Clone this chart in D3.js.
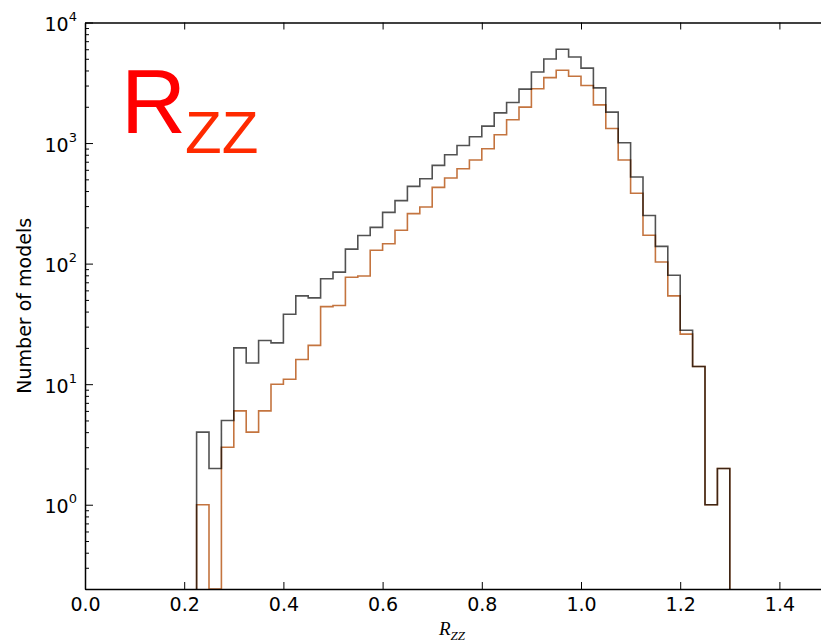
<!DOCTYPE html>
<html>
<head>
<meta charset="utf-8">
<script src="https://cdn.jsdelivr.net/npm/d3@7"></script>
<style>
  html, body { margin: 0; padding: 0; background: #fff; }
  svg { display: block; }
</style>
</head>
<body>
<svg id="chart" width="821" height="644"></svg>
<script>
// ---- data ----
const binEdges = [0.225, 0.25, 0.275, 0.3, 0.325, 0.35, 0.375, 0.4, 0.425, 0.45,
  0.475, 0.5, 0.525, 0.55, 0.575, 0.6, 0.625, 0.65, 0.675, 0.7,
  0.725, 0.75, 0.775, 0.8, 0.825, 0.85, 0.875, 0.9, 0.925, 0.95,
  0.975, 1.0, 1.025, 1.05, 1.075, 1.1, 1.125, 1.15, 1.175, 1.2,
  1.225, 1.25, 1.275, 1.3];
const allModels = [4, 2, 5, 20, 15, 23, 22, 38, 54, 52,
  75, 85, 132, 171, 200, 266, 333, 437, 506, 653,
  800, 955, 1128, 1381, 1781, 2170, 2800, 3890, 4985, 6000,
  5180, 4180, 2870, 1806, 1005, 523, 251, 139, 80, 28,
  14, 1, 2];
const selectedModels = [1, 0, 3, 6, 4, 6, 10, 11, 16, 21,
  44, 45, 77, 79, 129, 146, 189, 260, 295, 429,
  513, 612, 723, 897, 1172, 1560, 1986, 2818, 3490, 4018,
  3586, 3000, 2075, 1321, 723, 383, 172, 103, 54, 26,
  14, 1, 2];
const xTicks = [0.0, 0.2, 0.4, 0.6, 0.8, 1.0, 1.2, 1.4];
const yTicks = [1, 10, 100, 1000, 10000];
const yTickExp = ["0", "1", "2", "3", "4"];
const xDomain = [0, 1.5];
const yDomain = [0.2, 10000];

(function () {
// ---- layout ----
const svg = d3.select("#chart");
const pLeft = 85, pTop = 22.5, pBottom = 589;
const xScale = d3.scaleLinear().domain(xDomain).range([pLeft, pLeft + 1.5 * 496]);
const yScale = d3.scaleLog().domain(yDomain).range([pBottom, pTop]);
const pRight = xScale(xDomain[1]);

svg.append("defs").append("clipPath").attr("id", "plotclip")
  .append("rect").attr("x", pLeft).attr("y", pTop).attr("width", pRight - pLeft).attr("height", pBottom - pTop);

function stepPath(edges, vals) {
  const yOf = v => v > 0 ? yScale(v) : pBottom;
  const pts = [[xScale(edges[0]), pBottom]];
  vals.forEach((v, i) => {
    pts.push([xScale(edges[i]), yOf(v)]);
    pts.push([xScale(edges[i + 1]), yOf(v)]);
  });
  pts.push([xScale(edges[edges.length - 1]), pBottom]);
  return d3.line()(pts);
}

const plot = svg.append("g").attr("clip-path", "url(#plotclip)");
plot.append("path").attr("d", stepPath(binEdges, selectedModels))
  .attr("fill", "none").attr("stroke", "#c4743f").attr("stroke-width", 1.6);
plot.append("path").attr("d", stepPath(binEdges, allModels))
  .attr("fill", "none").attr("stroke", "#000").attr("stroke-opacity", 0.68).attr("stroke-width", 1.6);

// ---- axes ----
const minorY = [];
[0.1, 1, 10, 100, 1000].forEach(d => { for (let k = 2; k <= 9; k++) { const v = d * k; if (v >= yDomain[0] && v < yDomain[1]) minorY.push(v); } });

const font = "DejaVu Sans, Verdana, sans-serif";

const gx = svg.append("g").attr("transform", `translate(0,${pBottom})`)
  .call(d3.axisBottom(xScale).tickValues(xTicks).tickSizeInner(-7).tickSizeOuter(0).tickPadding(9)
    .tickFormat(d3.format(".1f")));
gx.selectAll("text").attr("font-family", font).attr("font-size", 19).attr("fill", "#000");

svg.append("g").attr("transform", `translate(0,${pTop})`)
  .call(d3.axisTop(xScale).tickValues(xTicks).tickSizeInner(-7).tickSizeOuter(0).tickFormat(""));

const gy = svg.append("g").attr("transform", `translate(${pLeft},0)`)
  .call(d3.axisLeft(yScale).tickValues(yTicks).tickSizeInner(-8).tickSizeOuter(0).tickPadding(8).tickFormat(""));
svg.append("g").attr("transform", `translate(${pLeft},0)`)
  .call(d3.axisLeft(yScale).tickValues(minorY).tickSizeInner(-4).tickSizeOuter(0).tickFormat(""))
  .select(".domain").remove();
svg.append("g").attr("transform", `translate(${pRight},0)`)
  .call(d3.axisRight(yScale).tickValues(yTicks).tickSizeInner(-8).tickSizeOuter(0).tickFormat(""));

gy.selectAll(".tick text").each(function(d, i) {
  const t = d3.select(this);
  t.text(null).attr("font-family", font).attr("font-size", 19).attr("fill", "#000")
    .attr("x", -8).attr("dy", "0.42em");
  t.append("tspan").text("10");
  t.append("tspan").attr("font-size", 13).attr("dy", "-0.75em").text(yTickExp[i]);
});

svg.selectAll(".domain").attr("stroke", "#000").attr("stroke-width", 1.5);
svg.selectAll(".tick line").attr("stroke", "#000").attr("stroke-width", 1);

// ---- labels ----
svg.append("text").attr("transform", `translate(31,${(pTop + pBottom) / 2}) rotate(-90)`)
  .attr("text-anchor", "middle").attr("font-family", font).attr("font-size", 19).attr("fill", "#000")
  .text("Number of models");

const xl = svg.append("text").attr("x", 439).attr("y", 635)
  .attr("font-family", "Liberation Serif, DejaVu Serif, serif").attr("font-style", "italic")
  .attr("font-size", 19).attr("fill", "#000");
xl.append("tspan").text("R");
xl.append("tspan").attr("font-size", 13).attr("dy", 5).text("ZZ");

const big = svg.append("text").attr("x", 121).attr("y", 133)
  .attr("font-family", "Liberation Sans, Arial, sans-serif");
big.append("tspan").attr("font-size", 90).attr("fill", "#ff0000").text("R");
big.append("tspan").attr("font-size", 60).attr("fill", "#ff2a00").attr("dy", 20).attr("dx", -1).text("ZZ");
})();
</script>
</body>
</html>
